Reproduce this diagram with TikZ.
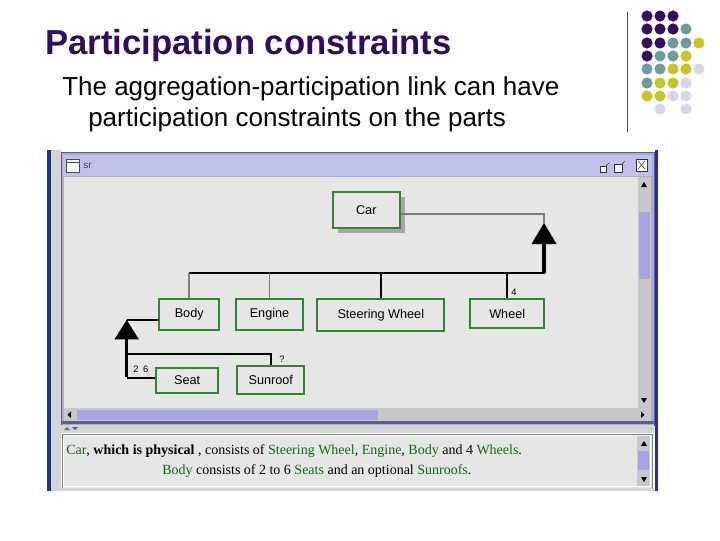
\documentclass[tikz,border=0pt]{standalone}
\usepackage{fontspec}
\setmainfont{Liberation Sans}
\newfontfamily\paneserif{Liberation Serif}
\usetikzlibrary{positioning}

\definecolor{titlepurple}{RGB}{51,12,94}
\definecolor{dotpurple}{RGB}{56,14,92}
\definecolor{dotteal}{RGB}{110,156,156}
\definecolor{dotyellow}{RGB}{200,196,40}
\definecolor{dotlilac}{RGB}{214,214,232}
\definecolor{canvasgray}{RGB}{230,230,230}
\definecolor{boxgreen}{RGB}{46,135,46}
\definecolor{linkgray}{RGB}{125,125,125}
\definecolor{framelilac}{RGB}{192,192,236}
\definecolor{thumblilac}{RGB}{165,165,225}
\definecolor{framedark}{RGB}{95,95,140}
\definecolor{edgeblue}{RGB}{30,50,150}
\definecolor{stripgray}{RGB}{212,212,216}
\definecolor{textgreen}{RGB}{15,105,15}
\definecolor{barbg}{RGB}{200,200,200}

\tikzset{
  part/.style={draw=boxgreen, line width=1.5pt, fill=canvasgray, inner sep=0pt, font=\fontsize{9.5}{11}\selectfont},
  link/.style={line width=1.4pt},
  softlink/.style={line width=1.4pt, draw=linkgray},
  heavylink/.style={line width=2.4pt},
  aggmark/.style={fill=black},
  cardlabel/.style={font=\fontsize{7}{8}\selectfont, inner sep=0pt},
  panetext/.style={anchor=base west, inner sep=0pt, font=\paneserif\fontsize{10.5}{12}\selectfont},
}

\begin{document}
\begin{tikzpicture}[x=0.75pt,y=0.75pt,yscale=-1,xscale=1]
\useasboundingbox (0,0) rectangle (720,540);
\fill[white] (0,0) rectangle (720,540);

% Title Node
\node (title) [anchor=base west, inner sep=0pt, text=titlepurple, font=\bfseries\fontsize{26}{30}\selectfont] at (45,54) {Participation constraints};
% Text Node
\node (sub1) [anchor=base west, inner sep=0pt, font=\fontsize{19.5}{23}\selectfont] at (62,95) {The aggregation-participation link can have};
% Text Node
\node (sub2) [anchor=base west, inner sep=0pt, font=\fontsize{19.5}{23}\selectfont] at (88,126) {participation constraints on the parts};

%Straight Lines
\draw [line width=0.75pt, black!70] (627,12) -- (627,132);
%Shape: Dots
\fill [dotpurple] (647,16) circle (5.6) (660,16) circle (5.6) (673,16) circle (5.6);
\fill [dotpurple] (647,29) circle (5.6) (660,29) circle (5.6) (673,29) circle (5.6);
\fill [dotteal] (686,29) circle (5.6);
\fill [dotpurple] (647,43) circle (5.6) (660,43) circle (5.6);
\fill [dotteal] (673,43) circle (5.6) (686,43) circle (5.6);
\fill [dotyellow] (699,43) circle (5.6);
\fill [dotpurple] (647,56) circle (5.6);
\fill [dotteal] (660,56) circle (5.6) (673,56) circle (5.6);
\fill [dotyellow] (686,56) circle (5.6);
\fill [dotteal] (647,69) circle (5.6) (660,69) circle (5.6);
\fill [dotyellow] (673,69) circle (5.6) (686,69) circle (5.6);
\fill [dotlilac] (699,69) circle (5.6);
\fill [dotteal] (647,83) circle (5.6);
\fill [dotyellow] (660,83) circle (5.6) (673,83) circle (5.6);
\fill [dotlilac] (686,83) circle (5.6);
\fill [dotyellow] (647,96) circle (5.6) (660,96) circle (5.6);
\fill [dotlilac] (673,96) circle (5.6) (686,96) circle (5.6);
\fill [dotlilac] (660,109) circle (5.6) (686,109) circle (5.6);

%Shape: Screenshot edges
\fill [edgeblue] (47,150) rectangle (50.5,491);
\fill [stripgray] (50.5,150) rectangle (61,491);
\fill [edgeblue] (654.5,150) rectangle (658,491);
%Shape: Window frame
\draw [framedark, fill=framelilac!70!gray] (61,152) rectangle (654,425);
\fill [framelilac] (63,155) rectangle (652,176);
\draw [black!70, fill=white] (66,159) rectangle (79,172);
\draw [black!70] (66,162) -- (79,162);
\node (frametitle) [anchor=west, inner sep=0pt, font=\fontsize{7.5}{9}\selectfont, text=black!75] at (83,165.5) {sr};
\draw [black!80, fill=white] (600,166) rectangle (606,172);
\draw [black!80] (606,166) -- (609,163);
\draw [black!80, fill=white] (614,164) rectangle (622,172);
\draw [black!80] (622,164) -- (625,161);
\draw [black!80, fill=white] (636,159) rectangle (647,171);
\draw [black!80] (638,161) -- (645,169) (645,161) -- (638,169);

%Shape: Canvas
\fill [canvasgray] (64,177) rectangle (638,408);
%Shape: Scroll bars
\fill [barbg] (638,177) rectangle (651,408);
\fill [black] (641,187) -- (647,187) -- (644,182) -- cycle;
\fill [thumblilac] (639,212) rectangle (650,279);
\fill [black] (641,398) -- (647,398) -- (644,403) -- cycle;
\fill [barbg] (64,408) rectangle (651,421);
\fill [thumblilac] (77,409.5) rectangle (378,420);
\fill [black] (71,411.5) -- (71,418) -- (67.5,414.7) -- cycle;
\fill [black] (641,411.5) -- (641,418) -- (644.5,414.7) -- cycle;
\fill [framedark] (61,421) rectangle (654,424);
\fill [stripgray] (61,425) rectangle (654,433);
\fill [black!60] (64,430) -- (70,430) -- (67,427) -- cycle;
\fill [black!60] (72,427) -- (78,427) -- (75,430) -- cycle;

%Shape: Text pane
\draw [black!50, fill=canvasgray] (62,434) rectangle (652,488);
\draw [white] (63.5,435.5) rectangle (650.5,486.5);
\fill [barbg] (637,436) rectangle (650,486);
\fill [black] (641,446) -- (647,446) -- (644,441) -- cycle;
\fill [thumblilac] (638,451) rectangle (649,470);
\fill [black] (641,477) -- (647,477) -- (644,482) -- cycle;
\fill [stripgray] (61,488) rectangle (654,491);

%Shape: Car shadow
\fill [black!35] (338,197) rectangle (405,232.7);

% Part Nodes
\node (car) [part, minimum width=50.5pt, minimum height=27pt] at (366.3,209.7) {Car};
\node (body) [part, minimum width=44.8pt, minimum height=23pt] at (189.2,314.7) {Body};
\node (engine) [part, minimum width=50pt, minimum height=23pt] at (269.5,314.7) {Engine};
\node (steering) [part, minimum width=95.3pt, minimum height=23.5pt] at (380.8,315) {Steering Wheel};
\node (wheel) [part, minimum width=55.7pt, minimum height=21.8pt] at (507.2,313.8) {Wheel};
\node (seat) [part, minimum width=46.7pt, minimum height=19.2pt] at (187.2,380.5) {Seat};
\node (sunroof) [part, minimum width=50.5pt, minimum height=21.2pt] at (270.8,380.2) {Sunroof};

% Car aggregation
\coordinate (aggtop) at (544,223);
\coordinate (aggbase) at (544,244);
\coordinate (partbus) at (544,273);
\draw [softlink] ([yshift=3pt]car.east) -| (aggtop);
\fill [aggmark] (aggtop) -- ++(12.5,21) -- ++(-25,0) -- cycle;
\draw [heavylink] (aggbase) -- (partbus);
\draw [link, line width=1.8pt] ([xshift=0.9pt]partbus) -- (partbus -| body.north);
\draw [softlink] (body.north) -- (body.north |- partbus);
\draw [softlink] (engine.north) -- (engine.north |- partbus);
\draw [link] (steering.north) -- (steering.north |- partbus);
\draw [link] (wheel.north) -- (wheel.north |- partbus);
\node (wheelcard) [cardlabel, anchor=west] at (511,292) {4};

% Body aggregation
\coordinate (bodytop) at (126.7,320);
\coordinate (bodybase) at (126.7,339.3);
\coordinate (sunroofjoin) at (126.7,354);
\coordinate (seatjoin) at (126.7,378.3);
\draw [link] ([yshift=4pt]body.west) -| (bodytop);
\fill [aggmark] (bodytop) -- ++(12.2,19.3) -- ++(-24.4,0) -- cycle;
\draw [heavylink] (bodybase) -- ([yshift=-0.9pt]seatjoin);
\draw [link] (seatjoin) -- (seatjoin -| seat.west);
\draw [link] (sunroofjoin) -| (sunroof.north);
\node (seatcard) [cardlabel, anchor=west] at (133,369) {2\enspace6};
\node (sunroofcard) [cardlabel, anchor=west] at (279,359) {?};

% Text Nodes
\node (desc1) [panetext] at (66,454) {\textcolor{textgreen}{Car}, \textbf{which is physical} , consists of \textcolor{textgreen}{Steering Wheel}, \textcolor{textgreen}{Engine}, \textcolor{textgreen}{Body} and 4 \textcolor{textgreen}{Wheels}.};
\node (desc2) [panetext] at (162,474) {\textcolor{textgreen}{Body} consists of 2 to 6 \textcolor{textgreen}{Seats} and an optional \textcolor{textgreen}{Sunroofs}.};

\end{tikzpicture}
\end{document}
